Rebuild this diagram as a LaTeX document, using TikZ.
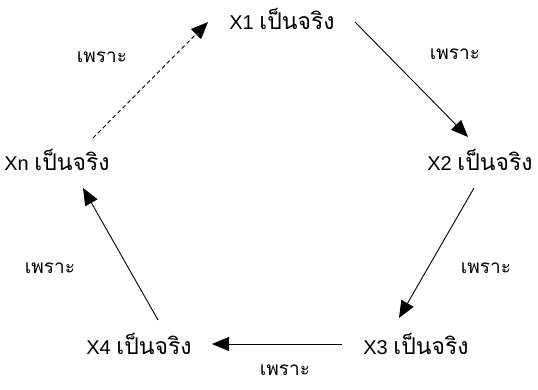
\documentclass[tikz,border=0pt]{standalone}
\usepackage{fontspec}
\setmainfont{Liberation Sans}
\newfontfamily\thaifont[Script=Thai,Scale=1.15]{Loma}
\usetikzlibrary{arrows.meta}
\begin{document}
\begin{tikzpicture}[x=1pt,y=-1pt,
  stmt/.style={inner sep=0pt, font=\fontsize{20}{22}\selectfont},
  because/.style={inner sep=0pt, font=\fontsize{16.5}{18}\selectfont\thaifont},
  link/.style={line width=0.9pt, -{Triangle[length=17pt,width=14pt]}}
]
\useasboundingbox (0,0) rectangle (538,390);
\node[stmt] (x1) at (282,19) {X1 {\thaifont เป็นจริง}};
\node[stmt] (x2) at (480,160) {X2 {\thaifont เป็นจริง}};
\node[stmt] (x3) at (416,344) {X3 {\thaifont เป็นจริง}};
\node[stmt] (x4) at (139,344) {X4 {\thaifont เป็นจริง}};
\node[stmt] (xn) at (57,160) {Xn {\thaifont เป็นจริง}};

\coordinate (a1s) at (355,22);  \coordinate (a1e) at (468,137);
\coordinate (a2s) at (474,188); \coordinate (a2e) at (399,318);
\coordinate (a3s) at (342,344); \coordinate (a3e) at (212,344);
\coordinate (a4s) at (158,320); \coordinate (a4e) at (83,188);
\coordinate (a5s) at (93,138);  \coordinate (a5e) at (208,22);

\draw[link] (a1s) -- (a1e);
\draw[link] (a2s) -- (a2e);
\draw[link] (a3s) -- (a3e);
\draw[link] (a4s) -- (a4e);
\draw[link, dash pattern=on 4pt off 3pt] (a5s) -- (a5e);

\node[because] (b1) at (455,54) {เพราะ};
\node[because] (b2) at (486,268) {เพราะ};
\node[because] (b3) at (285,370) {เพราะ};
\node[because] (b4) at (50,268) {เพราะ};
\node[because] (b5) at (102,57) {เพราะ};
\end{tikzpicture}
\end{document}
